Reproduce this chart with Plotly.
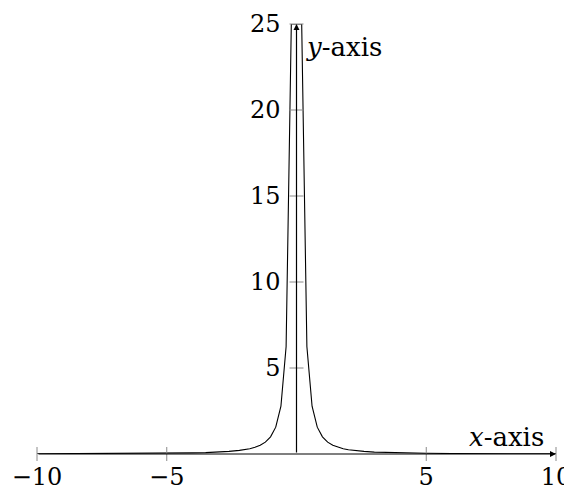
import plotly.graph_objects as go

x_vals = [-10, -9, -8, -7, -6, -5, -4.5, -4, -3.5, -3, -2.6, -2.2, -2, -1.8, -1.6,
          -1.4, -1.2, -1, -0.8, -0.6, -0.4, -0.2,
          0.2, 0.4, 0.6, 0.8, 1, 1.2, 1.4, 1.6, 1.8, 2, 2.2, 2.6, 3, 3.5, 4, 4.5,
          5, 6, 7, 8, 9, 10]
y_vals = [0.01, 0.012, 0.016, 0.02, 0.028, 0.04, 0.049, 0.063, 0.082, 0.11, 0.15, 0.21,
          0.25, 0.31, 0.39, 0.51, 0.69, 1.0, 1.56, 2.78, 6.25, 25,
          25, 6.25, 2.78, 1.56, 1.0, 0.69, 0.51, 0.39, 0.31, 0.25, 0.21, 0.15, 0.11,
          0.082, 0.063, 0.049, 0.04, 0.028, 0.02, 0.016, 0.012, 0.01]

x_ticks = [-10, -5, 5, 10]
x_tick_text = ["−10", "−5", "5", "10"]
y_ticks = [5, 10, 15, 20, 25]
y_tick_text = ["5", "10", "15", "20", "25"]

x_range = [-10, 10]
y_range = [0, 25]

FONT = "DejaVu Serif"
TICK_COLOR = "#8a8a8a"

fig = go.Figure()

fig.add_trace(go.Scatter(x=x_vals, y=y_vals, mode="lines",
                         line=dict(color="black", width=1.1),
                         hoverinfo="skip", showlegend=False))

# tick marks crossing the axis lines
fig.add_trace(go.Scatter(x=x_ticks, y=[0] * len(x_ticks), mode="markers",
                         marker=dict(symbol="line-ns", size=10,
                                     line=dict(color=TICK_COLOR, width=1)),
                         cliponaxis=False, hoverinfo="skip", showlegend=False))
fig.add_trace(go.Scatter(x=[0] * len(y_ticks), y=y_ticks, mode="markers",
                         marker=dict(symbol="line-ew", size=10,
                                     line=dict(color=TICK_COLOR, width=1)),
                         cliponaxis=False, hoverinfo="skip", showlegend=False))

# axis lines with arrows
fig.add_annotation(x=x_range[1], y=0, ax=x_range[0], ay=0, xref="x", yref="y",
                   axref="x", ayref="y", text="", showarrow=True, arrowhead=2,
                   arrowsize=1, arrowwidth=1.2, arrowcolor="black", standoff=0)
fig.add_annotation(x=0, y=y_range[1], ax=0, ay=y_range[0], xref="x", yref="y",
                   axref="x", ayref="y", text="", showarrow=True, arrowhead=2,
                   arrowsize=1, arrowwidth=1.2, arrowcolor="black", standoff=0)

# axis labels
fig.add_annotation(x=0, y=y_range[1], xref="x", yref="y", text="<i>y</i>-axis",
                   showarrow=False, xanchor="left", yanchor="top", xshift=7, yshift=-6,
                   font=dict(family=FONT, size=26, color="black"))
fig.add_annotation(x=x_range[1], y=0, xref="x", yref="y", text="<i>x</i>-axis",
                   showarrow=False, xanchor="right", yanchor="bottom", xshift=-10, yshift=0,
                   font=dict(family=FONT, size=26, color="black"))

# the page body adds an 8px offset, so the figure is 8px smaller on each axis
fig.update_layout(
    width=564, height=490,
    margin=dict(l=29, r=16, t=16, b=44, autoexpand=False),
    paper_bgcolor="white", plot_bgcolor="white",
    font=dict(family=FONT, size=24, color="black"),
    xaxis=dict(range=x_range, tickvals=x_ticks, ticktext=x_tick_text,
               showgrid=False, zeroline=False, showline=False, ticks="",
               automargin=False,
               ticklabelstandoff=6, tickfont=dict(family=FONT, size=24)),
    yaxis=dict(range=y_range, tickvals=y_ticks, ticktext=y_tick_text,
               showgrid=False, zeroline=False, showline=False, ticks="",
               automargin=False,
               anchor="free", position=0.5, ticklabelstandoff=16,
               tickfont=dict(family=FONT, size=24)),
)

fig.write_html("out.html")
